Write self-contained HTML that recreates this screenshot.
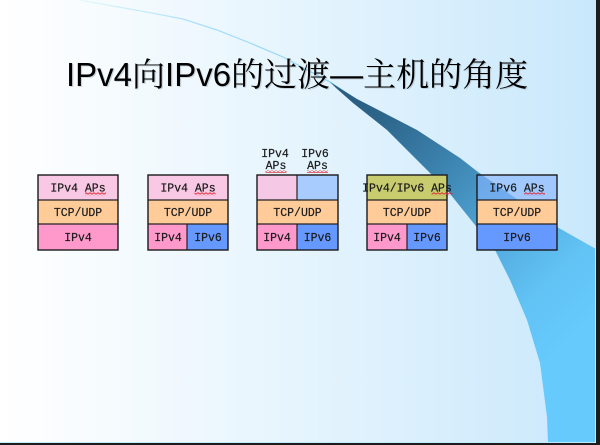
<!DOCTYPE html>
<html><head><meta charset="utf-8">
<style>
html,body{margin:0;padding:0;width:600px;height:445px;overflow:hidden;background:#fff}
svg{display:block}
.m{font-family:"Liberation Mono",monospace;font-size:11.5px;fill:#1a1a1a;text-anchor:middle;stroke:#1a1a1a;stroke-width:0.2}
.t{font-family:"Liberation Sans","Noto Serif CJK SC",serif;font-size:33px}
</style></head>
<body>
<svg width="600" height="445" viewBox="0 0 600 445" xmlns="http://www.w3.org/2000/svg">
<defs>
<linearGradient id="bg" x1="0" y1="0" x2="1" y2="0">
<stop offset="0" stop-color="#ffffff"/>
<stop offset="0.5" stop-color="#e5f4fd"/>
<stop offset="1" stop-color="#c9e8fc"/>
</linearGradient>
<linearGradient id="sw" gradientUnits="userSpaceOnUse" x1="355" y1="95" x2="585" y2="325">
<stop offset="0" stop-color="#2a5f83"/>
<stop offset="0.1" stop-color="#2d6489"/>
<stop offset="0.35" stop-color="#3c84b0"/>
<stop offset="0.64" stop-color="#54acdf"/>
<stop offset="0.83" stop-color="#62c3f5"/>
<stop offset="1" stop-color="#66cafc"/>
</linearGradient>
<linearGradient id="ln" gradientUnits="userSpaceOnUse" x1="80" y1="0" x2="330" y2="0">
<stop offset="0" stop-color="#86d3f8" stop-opacity="0.15"/>
<stop offset="0.4" stop-color="#86d3f8" stop-opacity="0.6"/>
<stop offset="1" stop-color="#86d3f8" stop-opacity="1"/>
</linearGradient>
<pattern id="wv" width="4" height="3" patternUnits="userSpaceOnUse">
<path d="M0,2.3 L2,0.6 L4,2.3" stroke="#e0202a" stroke-width="0.9" fill="none"/>
</pattern>
</defs>

<rect x="0" y="0" width="600" height="445" fill="url(#bg)"/>

<!-- swoosh -->
<path d="M80,0 L150,12.7 L183,19 L217,30 L250,43 L283,57 L330,82 L345,92" stroke="url(#ln)" stroke-width="1.2" fill="none"/>
<path d="M330,82 L357,99 L417,130 L460,158 L478,172 L557,227 L596,249 L596,443 L548,443 L547,417 L540,363 L527,320 L510,280 L495,250 L475,225 L447,190 L420,163 L387,130 L353,103 L336,88 Z" fill="url(#sw)"/>

<!-- borders -->
<rect x="595" y="0" width="1" height="443" fill="#c2eaff"/>
<rect x="596" y="0" width="4" height="445" fill="#1c1c1c"/>
<rect x="0" y="442" width="596" height="1" fill="#c2eaff"/>
<rect x="0" y="443" width="600" height="2" fill="#1c1c1c"/>

<!-- title -->
<text class="t" x="67.2" y="87.2" fill="#9aa6b0" fill-opacity="0.45">IPv4向IPv6的过渡—主机的角度</text>
<text class="t" x="66" y="86" fill="#000">IPv4向IPv6的过渡—主机的角度</text>

<!-- Box 1 -->
<rect x="38" y="175" width="80" height="25" fill="#f8c8e4"/>
<rect x="38" y="200" width="80" height="24" fill="#ffcc99"/>
<rect x="38" y="224" width="80" height="26" fill="#ff99cc"/>
<line x1="38" y1="200" x2="118" y2="200" stroke="#222" stroke-width="1.2"/>
<line x1="38" y1="224" x2="118" y2="224" stroke="#222" stroke-width="1.2"/>
<rect x="38" y="175" width="80" height="75" fill="none" stroke="#1a1a1a" stroke-width="1.4"/>
<text class="m" x="78" y="191.5">IPv4 APs</text>
<text class="m" x="78" y="215.8">TCP/UDP</text>
<text class="m" x="78" y="241">IPv4</text>
<rect x="85" y="192.5" width="21" height="3" fill="url(#wv)"/>

<!-- Box 2 -->
<rect x="148" y="175" width="80" height="25" fill="#f8c8e4"/>
<rect x="148" y="200" width="80" height="24" fill="#ffcc99"/>
<rect x="148" y="224" width="39" height="26" fill="#ff99cc"/>
<rect x="187" y="224" width="41" height="26" fill="#6699ff"/>
<line x1="148" y1="200" x2="228" y2="200" stroke="#222" stroke-width="1.2"/>
<line x1="148" y1="224" x2="228" y2="224" stroke="#222" stroke-width="1.2"/>
<line x1="187" y1="224" x2="187" y2="250" stroke="#222" stroke-width="1.2"/>
<rect x="148" y="175" width="80" height="75" fill="none" stroke="#1a1a1a" stroke-width="1.4"/>
<text class="m" x="188" y="191.5">IPv4 APs</text>
<text class="m" x="188" y="215.8">TCP/UDP</text>
<text class="m" x="168" y="241">IPv4</text>
<text class="m" x="208" y="241">IPv6</text>
<rect x="194.5" y="192.5" width="21" height="3" fill="url(#wv)"/>

<!-- Box 3 -->
<text class="m" x="275" y="157">IPv4</text>
<text class="m" x="276" y="169">APs</text>
<text class="m" x="315" y="157">IPv6</text>
<text class="m" x="317.5" y="169">APs</text>
<rect x="265.5" y="170" width="21" height="3" fill="url(#wv)"/>
<rect x="307" y="170" width="21" height="3" fill="url(#wv)"/>
<rect x="257" y="175" width="40" height="25" fill="#f5c8e6"/>
<rect x="297" y="175" width="41" height="25" fill="#87b5ff" fill-opacity="0.63"/>
<rect x="257" y="200" width="81" height="24" fill="#ffcc99"/>
<rect x="257" y="224" width="40" height="26" fill="#ff99cc"/>
<rect x="297" y="224" width="41" height="26" fill="#6699ff"/>
<line x1="257" y1="200" x2="338" y2="200" stroke="#222" stroke-width="1.2"/>
<line x1="257" y1="224" x2="338" y2="224" stroke="#222" stroke-width="1.2"/>
<line x1="297" y1="175" x2="297" y2="200" stroke="#222" stroke-width="1.2"/>
<line x1="297" y1="224" x2="297" y2="250" stroke="#222" stroke-width="1.2"/>
<rect x="257" y="175" width="81" height="75" fill="none" stroke="#1a1a1a" stroke-width="1.4"/>
<text class="m" x="297.5" y="215.8">TCP/UDP</text>
<text class="m" x="277" y="241">IPv4</text>
<text class="m" x="317.5" y="241">IPv6</text>

<!-- Box 4 -->
<rect x="367" y="175" width="80" height="25" fill="#c8cc6e"/>
<rect x="367" y="200" width="80" height="24" fill="#ffcc99"/>
<rect x="367" y="224" width="40" height="26" fill="#ff99cc"/>
<rect x="407" y="224" width="40" height="26" fill="#6699ff"/>
<line x1="367" y1="200" x2="447" y2="200" stroke="#222" stroke-width="1.2"/>
<line x1="367" y1="224" x2="447" y2="224" stroke="#222" stroke-width="1.2"/>
<line x1="407" y1="224" x2="407" y2="250" stroke="#222" stroke-width="1.2"/>
<rect x="367" y="175" width="80" height="75" fill="none" stroke="#1a1a1a" stroke-width="1.4"/>
<text class="m" x="407" y="191.5">IPv4/IPv6 APs</text>
<text class="m" x="407" y="215.8">TCP/UDP</text>
<text class="m" x="387" y="241">IPv4</text>
<text class="m" x="427" y="241">IPv6</text>
<rect x="431.5" y="192.5" width="21" height="3" fill="url(#wv)"/>

<!-- Box 5 -->
<rect x="477" y="175" width="80" height="25" fill="#87b5ff" fill-opacity="0.63"/>
<rect x="477" y="200" width="80" height="24" fill="#ffcc99"/>
<rect x="477" y="224" width="80" height="26" fill="#6699ff"/>
<line x1="477" y1="200" x2="557" y2="200" stroke="#222" stroke-width="1.2"/>
<line x1="477" y1="224" x2="557" y2="224" stroke="#222" stroke-width="1.2"/>
<rect x="477" y="175" width="80" height="75" fill="none" stroke="#1a1a1a" stroke-width="1.4"/>
<text class="m" x="517" y="191.5">IPv6 APs</text>
<text class="m" x="517" y="215.8">TCP/UDP</text>
<text class="m" x="517" y="241">IPv6</text>
<rect x="524" y="192.5" width="21" height="3" fill="url(#wv)"/>
</svg>
</body></html>
